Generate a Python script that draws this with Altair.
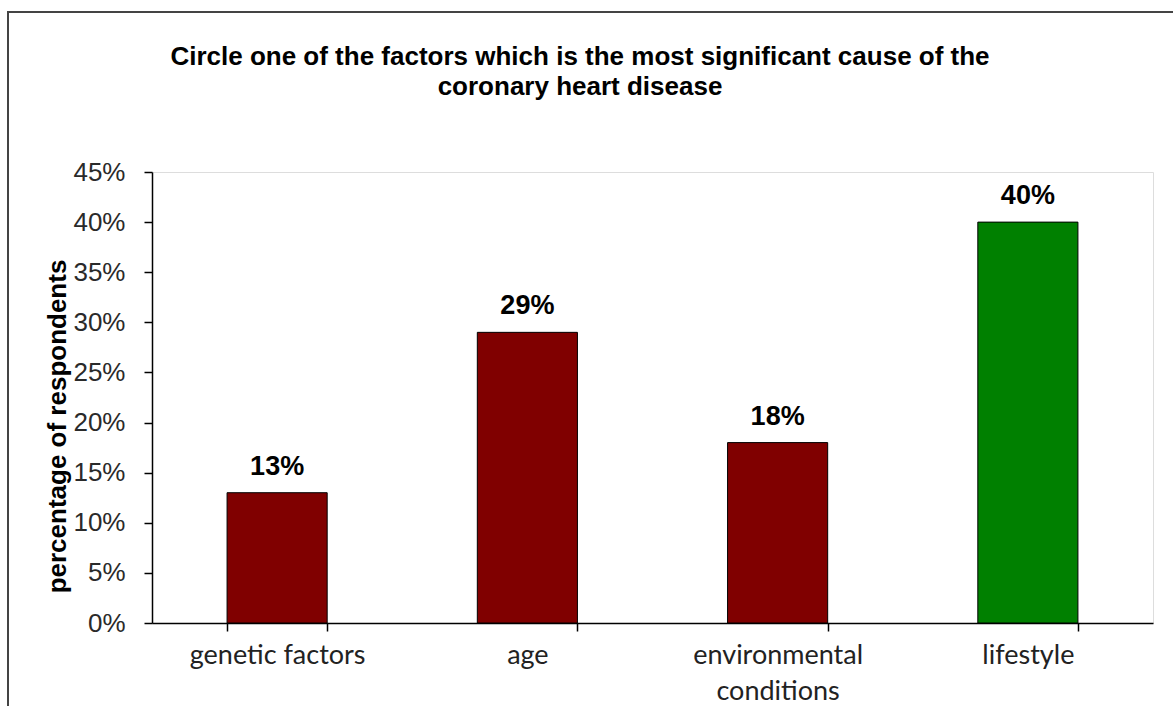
import altair as alt
import pandas as pd

# Survey answers: share of respondents naming each factor
factors = ["genetic factors", "age", "environmental conditions", "lifestyle"]
shares = [13, 29, 18, 40]
bar_colors = ["#800000", "#800000", "#800000", "#008000"]
y_ticks = [0, 5, 10, 15, 20, 25, 30, 35, 40, 45]
title_lines = [
    "Circle one of the factors which is the most significant cause of the",
    "coronary heart disease",
]

df = pd.DataFrame({"factor": factors, "share": shares, "color": bar_colors})
df["label"] = df["share"].astype(str) + "%"

PLOT_W, PLOT_H = 1001, 451
PAD = {"left": 152, "top": 172, "right": 20, "bottom": 83}

x_enc = alt.X(
    "factor:N",
    sort=factors,
    title=None,
    scale=alt.Scale(paddingInner=0.6, paddingOuter=0.3),
    axis=alt.Axis(
        tickBand="extent",
        labelAngle=0,
        labelFont="Lato",
        labelFontSize=27,
        labelColor="#222222",
        labelPadding=11,
        labelBaseline="top",
        labelLineHeight=36,
        labelExpr="datum.value == 'environmental conditions' ? ['environmental', 'conditions'] : datum.value",
        tickSize=8,
        tickColor="black",
        tickWidth=1.5,
        domainColor="black",
        domainWidth=1.5,
    ),
)

y_enc = alt.Y(
    "share:Q",
    scale=alt.Scale(domain=[0, 45], nice=False),
    title="percentage of respondents",
    axis=alt.Axis(
        values=y_ticks,
        labelExpr="datum.value + '%'",
        labelFont="Liberation Sans",
        labelFontSize=26,
        labelColor="#2a2a2a",
        labelPadding=19,
        tickSize=8,
        tickColor="black",
        tickWidth=1.5,
        domainColor="black",
        domainWidth=1.5,
        grid=False,
        titleFont="Liberation Sans",
        titleFontSize=26,
        titleFontWeight="bold",
        titleColor="black",
        titleX=-87,
        titleY=254,
        titleAlign="center",
        titleBaseline="alphabetic",
    ),
)

base = alt.Chart(df)

bars = base.mark_bar(stroke="black", strokeWidth=1).encode(
    x=x_enc,
    y=y_enc,
    color=alt.Color("color:N", scale=None),
)

labels = base.mark_text(
    dy=-18,
    baseline="alphabetic",
    font="Liberation Sans",
    fontSize=27,
    fontWeight="bold",
    color="black",
).encode(
    x=alt.X("factor:N", sort=factors),
    y=alt.Y("share:Q"),
    text="label:N",
)

# Outer frame around the whole chart area
frame = alt.Chart(pd.DataFrame({"k": [0]})).mark_rect(
    filled=False, stroke="#444444", strokeWidth=2
).encode(
    x=alt.value(-144),
    x2=alt.value(PLOT_W + PAD["right"] + 20),
    y=alt.value(-160),
    y2=alt.value(PLOT_H + PAD["bottom"] + 20),
)

# Two-line heading above the plot
heading = alt.Chart(pd.DataFrame({"text": [title_lines]})).mark_text(
    font="Liberation Sans",
    fontSize=26,
    fontWeight="bold",
    color="black",
    align="center",
    baseline="alphabetic",
    lineHeight=30,
).encode(
    x=alt.value(428),
    y=alt.value(-107),
    text="text",
)

chart = (
    alt.layer(frame, heading, bars, labels)
    .properties(
        width=PLOT_W,
        height=PLOT_H,
        autosize=alt.AutoSizeParams(type="none"),
        padding=PAD,
    )
    .configure_view(stroke=None)
    .configure(background="white")
)

chart.save("out.html", embed_options={"renderer": "svg", "actions": False})
